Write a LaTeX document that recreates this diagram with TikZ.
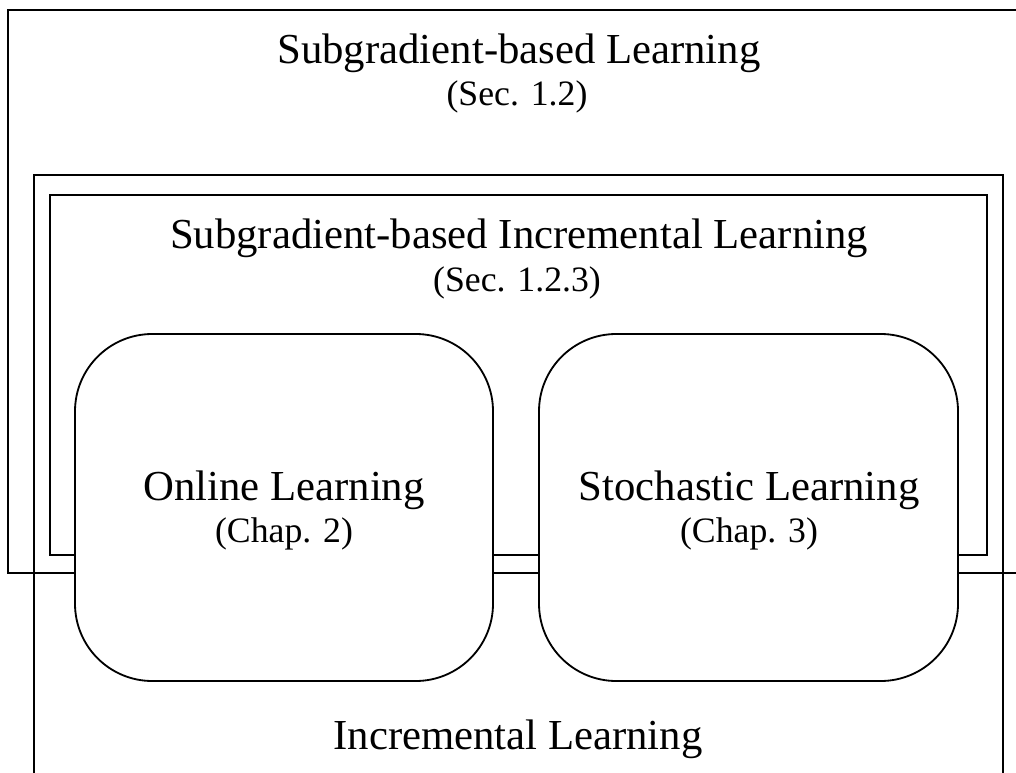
\documentclass[tikz,border=0pt]{standalone}
\usepackage{fontspec}
\setmainfont{Liberation Serif}
\usepackage{tikz}

\tikzset{
  areatitle/.style={font=\fontsize{30.4}{36}\selectfont, anchor=base, inner sep=0pt},
  areasub/.style={font=\fontsize{25.4}{30}\selectfont, anchor=base, inner sep=0pt},
  chapbox/.style={draw, fill=white, rounded corners=55},
}

\begin{document}
\begin{tikzpicture}[x=0.25mm, y=-0.25mm, line width=1.3pt]
    \useasboundingbox (0,0) rectangle (1016,773);
    \clip (0,0) rectangle (1016,773);

    % nested areas
    \draw (8,10) rectangle (1040,573);
    \draw (34,175) rectangle (1003,800);
    \draw (50,195) rectangle (987,555);
    \draw[chapbox] (75,334) rectangle (493,681);
    \draw[chapbox] (539,334) rectangle (958,681);

    \node[areatitle] (subgrad) at (519,64) {Subgradient-based Learning};
    \node[areasub] (subgradsec) at (517,106) {(Sec. 1.2)};
    \node[areatitle] (subinc) at (519,249) {Subgradient-based Incremental Learning};
    \node[areasub] (subincsec) at (517,291) {(Sec. 1.2.3)};

    \node[areatitle] (online) at (284,500) {Online Learning};
    \node[areasub] (onlinechap) at (284,542) {(Chap. 2)};
    \node[areatitle] (stoch) at (749,500) {Stochastic Learning};
    \node[areasub] (stochchap) at (749,542) {(Chap. 3)};

    \node[areatitle] (incr) at (518,749) {Incremental Learning};
\end{tikzpicture}
\end{document}
